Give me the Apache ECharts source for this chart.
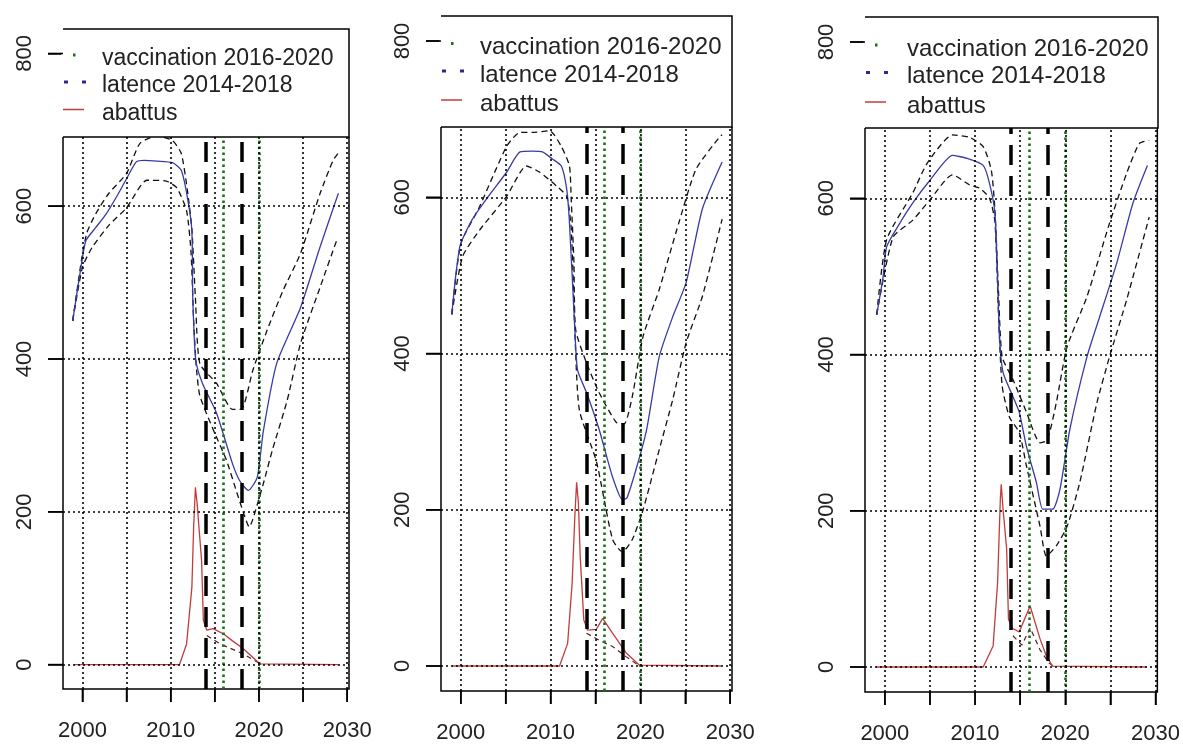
<!DOCTYPE html>
<html>
<head>
<meta charset="utf-8">
<script src="https://cdn.jsdelivr.net/npm/echarts@6/dist/echarts.min.js"></script>
<style>
html, body { margin: 0; padding: 0; background: #fff; }
#chart { width: 1183px; height: 745px; }
</style>
</head>
<body>
<div id="chart"></div>
<script>
// axes
var xMin = 1997.8, xMax = 2030.2;
var yMin = -32, yMax = 832;
var xTicks = [2000, 2005, 2010, 2015, 2020, 2025, 2030];
var xLabels = [2000, 2010, 2020, 2030];
var yTicks = [0, 200, 400, 600, 800];
var yGrid = [0, 200, 400, 600, 800];
// periodes
var latence = [2014, 2018];
var vaccination = [2016, 2020];
var legendNames = ['vaccination 2016-2020', 'latence 2014-2018', 'abattus'];

// panneau 1
var p1Mean = [[1998.9,450],[1999.9,525],[2000.4,555],[2001.5,572],[2002.7,590],[2004,615],[2005,636],[2006.1,658],[2007,660],[2008.5,659],[2010.2,657],[2011.2,647],[2011.9,611],[2012.4,568],[2012.5,480],[2012.7,420],[2012.9,394],[2013.6,368],[2015.2,329],[2017.0,263],[2017.8,241],[2018.8,228],[2019.8,245],[2020.5,306],[2022.0,394],[2024.7,467],[2026.9,546],[2029.0,617]];
var p1Up = [[1998.9,450],[1999.9,530],[2000.5,565],[2001.5,590],[2003,617],[2005,643],[2006.5,682],[2008.4,692],[2010.2,686],[2011.2,669],[2011.9,620],[2012.4,570],[2012.8,480],[2013.3,394],[2015.2,368],[2017.0,334],[2018.0,334],[2019.3,385],[2020.9,437],[2022.7,489],[2024.7,538],[2026.9,616],[2028.4,660],[2029.0,670]];
var p1Low = [[1998.9,450],[2000,520],[2001.1,546],[2003,575],[2005,598],[2007.3,634],[2009.5,633],[2010.7,624],[2011.8,594],[2012.3,540],[2012.6,450],[2012.9,390],[2013.3,352],[2014.8,308],[2016.3,268],[2017.5,225],[2018.5,190],[2018.9,180],[2019.3,190],[2020.5,237],[2021.5,280],[2023.2,346],[2024.7,420],[2026.9,493],[2028.8,555],[2029.0,558]];
var p1Red = [[1999,0],[2011,0],[2011.8,27],[2012.4,101],[2012.6,180],[2012.8,232],[2013.0,210],[2013.2,180],[2013.5,136],[2013.7,58],[2014.1,45],[2014.8,47],[2016,40],[2017,31],[2018.2,21],[2020.1,1],[2029,0]];
var p1RedLow = [[2014.1,38],[2015.6,27],[2018.2,14],[2020.3,0]];

// panneau 2
var p2Mean = [[1999.0,450],[1999.9,537],[2001.3,572],[2003,600],[2005.1,632],[2006.6,658],[2008.0,659],[2009.1,658],[2010.2,649],[2011.2,640],[2011.8,610],[2012.1,568],[2012.7,431],[2013.0,379],[2014.0,350],[2015.4,303],[2016.9,242],[2018.0,213],[2018.5,215],[2019.6,255],[2020.7,303],[2022.1,396],[2023.6,447],[2025.1,491],[2026.9,585],[2029.1,645]];
var p2Up = [[1999.0,450],[2000,540],[2002.1,588],[2005.1,665],[2006.6,683],[2008,683],[2009.9,685],[2011.2,665],[2012.1,640],[2012.3,597],[2012.6,517],[2012.8,430],[2014.0,388],[2015.4,350],[2017.3,312],[2018.2,310],[2019.1,345],[2020.3,422],[2022.1,482],[2024.3,568],[2026.2,636],[2028.8,677],[2029.1,680]];
var p2Low = [[1999.0,450],[2000.2,524],[2002.1,558],[2005.1,601],[2007.3,640],[2008.8,632],[2010.7,614],[2011.8,601],[2012.3,560],[2012.7,430],[2013.2,328],[2015.1,262],[2016.9,162],[2018.0,146],[2019.1,162],[2020.3,200],[2022.1,277],[2023.6,341],[2025.1,414],[2026.9,473],[2029.1,572]];
var p2Red = [[1999,0],[2011,0],[2011.9,29],[2012.4,106],[2012.7,191],[2012.9,235],[2013.1,209],[2013.3,140],[2013.7,59],[2014.1,46],[2015.1,47],[2015.8,61],[2016.9,42],[2018.4,17],[2019.9,1],[2029,0]];
var p2RedLow = [[2014.0,42],[2015.4,33],[2016.9,25],[2018.4,12],[2019.9,0]];

// panneau 3
var p3Mean = [[1999.1,451],[1999.8,499],[2000.2,538],[2001.5,565],[2003.1,594],[2005.0,623],[2007.5,655],[2009.1,651],[2010.9,642],[2011.6,619],[2012.2,581],[2012.5,495],[2012.7,423],[2013.1,377],[2014.2,346],[2014.9,326],[2015.7,282],[2016.8,236],[2017.5,202],[2018.6,202],[2019.4,227],[2020.5,304],[2022.4,397],[2023.8,448],[2025.7,517],[2027.5,594],[2029.1,642]];
var p3Up = [[1999.1,451],[2000.2,547],[2003.1,607],[2004.7,645],[2007.5,681],[2009.4,678],[2010.9,666],[2011.8,636],[2012.2,585],[2012.6,480],[2013.0,397],[2014.2,368],[2015.7,326],[2017.2,287],[2018,290],[2019.0,338],[2020.2,410],[2022.4,474],[2024.9,568],[2026.8,632],[2028.2,670],[2029.3,674]];
var p3Low = [[1999.1,451],[2000.9,550],[2003.1,572],[2005,598],[2007.5,630],[2009.4,617],[2010.5,613],[2011.6,600],[2012.2,570],[2012.6,450],[2013.0,360],[2013.8,320],[2014.9,300],[2015.7,257],[2017.2,180],[2017.9,142],[2019.0,155],[2020.2,180],[2021.6,236],[2023.5,338],[2024.9,397],[2026.8,470],[2029.3,576]];
var p3Red = [[1999,0],[2010.9,0],[2012.0,27],[2012.5,109],[2012.8,215],[2012.9,234],[2013.1,202],[2013.5,151],[2013.7,61],[2014.2,49],[2014.9,45],[2016.1,78],[2017.2,36],[2017.9,14],[2018.6,1],[2029,0]];
var p3RedLow = [[2014.2,40],[2015.2,28],[2016.1,50],[2017.2,22],[2018.2,5],[2018.8,0]];

var panels = [
	{mean: p1Mean, up: p1Up, low: p1Low, red: p1Red, redLow: p1RedLow},
	{mean: p2Mean, up: p2Up, low: p2Low, red: p2Red, redLow: p2RedLow},
	{mean: p3Mean, up: p3Up, low: p3Low, red: p3Red, redLow: p3RedLow}
];

// mise en page (pixels)
var layout = [
	{left: 63, top: 29, width: 286, height: 660, legH: 108, rows: [30, 57, 84.5], textX: 39, fs: 23},
	{left: 441, top: 16, width: 291, height: 675, legH: 111, rows: [31.5, 59, 88], textX: 39, fs: 24},
	{left: 865, top: 17, width: 293, height: 676, legH: 111, rows: [32, 59.5, 89], textX: 42, fs: 24}
];

var FONT = '"Liberation Sans", Arial, sans-serif';
var BLUE = '#3a3aa6';
var RED = '#c23c3c';
var GREEN = '#1b6e1b';

var myChart = echarts.init(document.getElementById('chart'), null, {renderer: 'canvas'});

var grids = [], xAxes = [], yAxes = [], series = [], graphics = [];

layout.forEach(function (l, i) {
	grids.push({
		left: l.left, top: l.top, width: l.width, height: l.height,
		show: true, borderColor: '#000', borderWidth: 1.5, backgroundColor: 'transparent'
	});
	xAxes.push({
		type: 'value', gridIndex: i, min: xMin, max: xMax,
		axisLine: {show: false, onZero: false},
		splitLine: {show: false},
		axisTick: {show: true, length: 13, customValues: xTicks, lineStyle: {color: '#000', width: 1.5}},
		axisLabel: {customValues: xLabels, margin: 31, fontSize: 22, color: '#222', fontFamily: FONT,
			formatter: function (v) { return String(v); }}
	});
	yAxes.push({
		type: 'value', gridIndex: i, min: yMin, max: yMax,
		axisLine: {show: false, onZero: false},
		splitLine: {show: false},
		axisTick: {show: true, length: 15, customValues: yTicks, lineStyle: {color: '#000', width: 1.5}},
		axisLabel: {customValues: yTicks, rotate: 90, margin: 27, fontSize: 22, color: '#222', fontFamily: FONT}
	});

	var p = panels[i];
	var dashed = {color: '#111', width: 1.3, type: [6, 4]};

	// grille + periodes
	var marks = [];
	vaccination.forEach(function (v) {
		marks.push({xAxis: v, lineStyle: {color: GREEN, width: 2.6, type: [2.5, 3.5]}});
	});
	yGrid.forEach(function (v) {
		marks.push({yAxis: v, lineStyle: {color: '#000', width: 1.6, type: [2, 3]}});
	});
	xTicks.forEach(function (v) {
		marks.push({xAxis: v, lineStyle: {color: '#000', width: 1.6, type: [2, 3]}});
	});
	latence.forEach(function (v) {
		marks.push({xAxis: v, lineStyle: {color: '#000', width: 3.5, type: [20, 11]}});
	});

	var smooth = 0.2;
	series.push({type: 'line', xAxisIndex: i, yAxisIndex: i, data: p.up, showSymbol: false, lineStyle: dashed, z: 2, smooth: smooth});
	series.push({type: 'line', xAxisIndex: i, yAxisIndex: i, data: p.low, showSymbol: false, lineStyle: dashed, z: 2, smooth: smooth});
	series.push({type: 'line', xAxisIndex: i, yAxisIndex: i, data: p.mean, showSymbol: false, lineStyle: {color: BLUE, width: 1.3}, z: 3, smooth: smooth});
	series.push({type: 'line', xAxisIndex: i, yAxisIndex: i, data: p.redLow, showSymbol: false, lineStyle: {color: '#5a2020', width: 1.2, type: [5, 4]}, z: 3});
	series.push({
		type: 'line', xAxisIndex: i, yAxisIndex: i, data: p.red, showSymbol: false,
		lineStyle: {color: RED, width: 1.3}, z: 3,
		markLine: {silent: true, symbol: ['none', 'none'], label: {show: false}, animation: false, data: marks}
	});

	// legende (fond blanc par-dessus le haut du graphe)
	var L = l.left, T = l.top, R = l.left + l.width, B = l.top + l.legH;
	graphics.push({type: 'rect', z: 100, shape: {x: L - 1.5, y: T - 1, width: l.width + 2.5, height: l.legH + 1}, style: {fill: '#fff'}});
	graphics.push({type: 'polyline', z: 101, shape: {points: [[L, T], [R, T], [R, B], [L, B]]}, style: {stroke: '#000', lineWidth: 1.5, fill: null}});
	legendNames.forEach(function (name, k) {
		graphics.push({type: 'text', z: 102, style: {text: name, x: L + l.textX, y: T + l.rows[k], font: l.fs + 'px ' + FONT, fill: '#222', align: 'left', verticalAlign: 'middle'}});
	});
	var r0 = T + l.rows[0] - 4, r1 = T + l.rows[1] - 4, r2 = T + l.rows[2] - 4;
	graphics.push({type: 'rect', z: 102, shape: {x: L + 10, y: r0 - 1.5, width: 2.5, height: 3}, style: {fill: GREEN}});
	graphics.push({type: 'rect', z: 102, shape: {x: L + 1, y: r1 - 1.5, width: 4, height: 3}, style: {fill: '#2a2a90'}});
	graphics.push({type: 'rect', z: 102, shape: {x: L + 19, y: r1 - 1.5, width: 4, height: 3}, style: {fill: '#2a2a90'}});
	graphics.push({type: 'line', z: 102, shape: {x1: L, y1: r2, x2: L + 21, y2: r2}, style: {stroke: RED, lineWidth: 1.5}});
});

myChart.setOption({
	animation: false,
	backgroundColor: '#fff',
	grid: grids,
	xAxis: xAxes,
	yAxis: yAxes,
	series: series,
	graphic: {elements: graphics}
});

// graduations: positions prises sur les echelles du graphique
var tickEls = [];
layout.forEach(function (l, i) {
	xTicks.forEach(function (v) {
		var pt = myChart.convertToPixel({gridIndex: i}, [v, yMin]);
		tickEls.push({type: 'line', z: 110, shape: {x1: pt[0], y1: pt[1], x2: pt[0], y2: pt[1] + 13}, style: {stroke: '#000', lineWidth: 1.5}});
	});
	yTicks.forEach(function (v) {
		var pt = myChart.convertToPixel({gridIndex: i}, [xMin, v]);
		tickEls.push({type: 'line', z: 110, shape: {x1: pt[0] - 15, y1: pt[1], x2: pt[0], y2: pt[1]}, style: {stroke: '#000', lineWidth: 1.5}});
	});
});
myChart.setOption({graphic: {elements: graphics.concat(tickEls)}});

window.onresize = function () {
	myChart.resize();
};
</script>
</body>
</html>
